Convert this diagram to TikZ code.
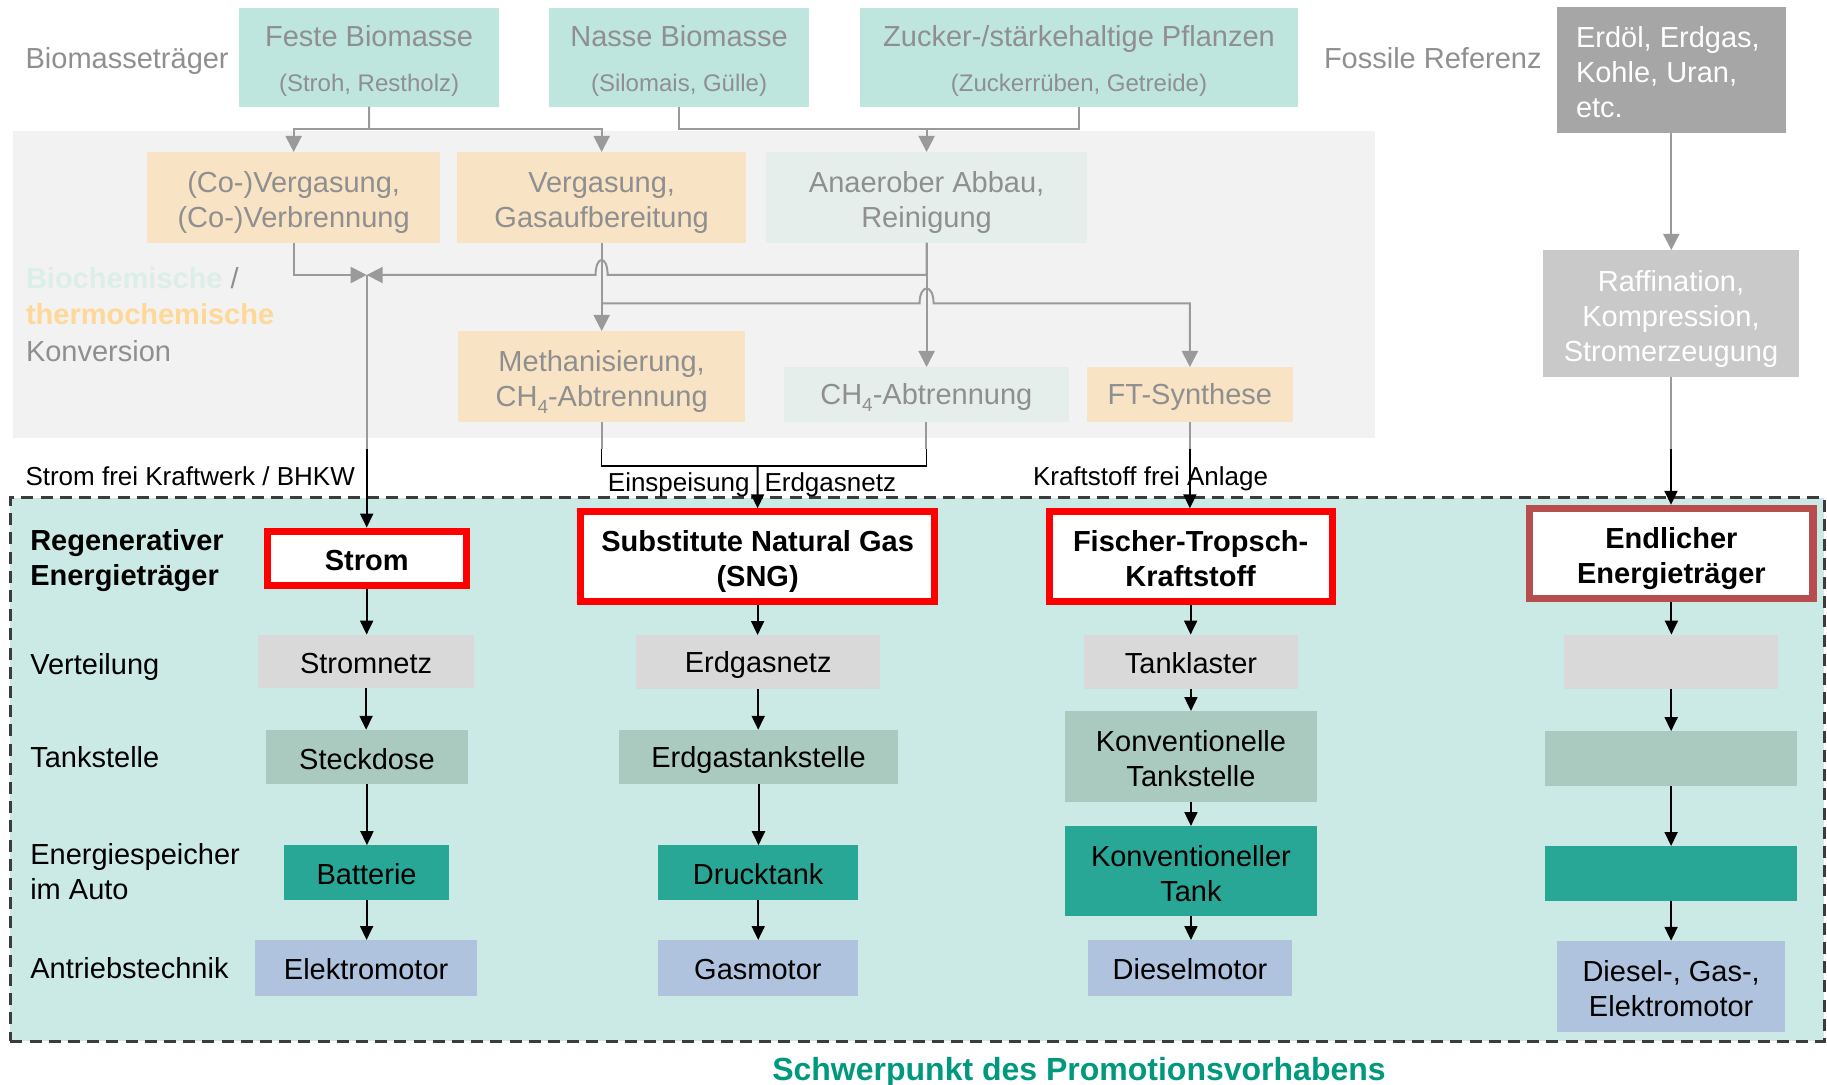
\documentclass[tikz,border=0pt]{standalone}
\usepackage{fontspec}
\setmainfont{Liberation Sans}
\usetikzlibrary{arrows.meta}
\definecolor{ctop}{HTML}{BFE5DF}
\definecolor{cpeach}{HTML}{F9E3C5}
\definecolor{cpale}{HTML}{E6EEEB}
\definecolor{cpanel}{HTML}{F2F2F2}
\definecolor{cerd}{HTML}{A6A6A6}
\definecolor{craff}{HTML}{C9C9C9}
\definecolor{clow}{HTML}{CCEAE5}
\definecolor{rowa}{HTML}{D9D9D9}
\definecolor{rowb}{HTML}{AAC9BF}
\definecolor{rowc}{HTML}{29A796}
\definecolor{rowd}{HTML}{B0C3DE}
\definecolor{cred}{HTML}{FF0000}
\definecolor{cdred}{HTML}{B84D4D}
\definecolor{cgreen}{HTML}{00997D}
\definecolor{cgtext}{HTML}{8F8F8F}
\definecolor{cbio}{HTML}{DCEEE8}
\definecolor{cthermo}{HTML}{FFD898}
\definecolor{cgline}{HTML}{9A9A9A}
\definecolor{cdash}{HTML}{3C3C3C}

\newcommand{\mystrut}{\rule[-1.3pt]{0pt}{14.8pt}}
\newcommand{\ftop}{\rule{0pt}{16.2pt}}
\newcommand{\fbot}{\rule[-3.5pt]{0pt}{3.5pt}}
\newcommand{\subfour}{\raisebox{-3.8pt}{\fontsize{9.5}{10}\selectfont 4}}
\newcommand{\mybox}[7]{\node[#6, minimum width={(#4-#2)*0.5pt}, minimum height={(#5-#3)*0.5pt}] (#1) at ({(#2+#4)/2},{(#3+#5)/2}) {#7};}
\newcommand{\myobox}[7]{\node[#6, minimum width={(#4-#2-7.2)*0.5pt}, minimum height={(#5-#3-7.2)*0.5pt}] (#1) at ({(#2+#4)/2},{(#3+#5)/2}) {#7};}

\tikzset{
  every node/.style={inner sep=0pt, outer sep=0pt},
  txt/.style={font=\fontsize{14.5}{17.5}\selectfont, align=center, execute at begin node=\mystrut, execute at end node=\mystrut},
  topbox/.style={fill=ctop},
  ttl/.style={font=\fontsize{14.5}{17.5}\selectfont, text=cgtext},
  subttl/.style={font=\fontsize{12}{14}\selectfont, text=cgtext},
  procA/.style={txt, fill=cpeach, text=cgtext},
  procB/.style={txt, fill=cpale, text=cgtext},
  keybox/.style={txt, font=\bfseries\fontsize{14.5}{17.5}\selectfont, fill=white, draw=cred, line width=3.6pt, outer sep=1.8pt},
  rA/.style={txt, fill=rowa},
  rB/.style={txt, fill=rowb},
  rC/.style={txt, fill=rowc},
  rD/.style={txt, fill=rowd},
  lbl/.style={font=\fontsize{14.5}{17.5}\selectfont, anchor=base west},
  anno/.style={font=\fontsize{13}{15.6}\selectfont},
  gline/.style={draw=cgline, line width=1pt},
  garrow/.style={gline, -{Triangle[length=8pt,width=8pt]}},
  bline/.style={draw=black, line width=0.8pt},
  barrow/.style={draw=black, line width=1pt, -{Triangle[length=7pt,width=6.5pt]}},
}

\begin{document}
\begin{tikzpicture}[x=0.5pt,y=-0.5pt]
\useasboundingbox (0,0) rectangle (1827,1085);

% backgrounds
\mybox{panel}{12.6}{131}{1375}{437.7}{fill=cpanel}{}
\mybox{focus}{10.3}{498}{1824}{1041}{fill=clow, draw=cdash, line width=1.5pt, dash pattern=on 6pt off 3.6pt}{}

% top sources
\mybox{feste}{238.8}{8}{499.4}{106.7}{topbox}{}
\node[ttl, anchor=base] (festeT) at (369.1,47) {Feste Biomasse};
\node[subttl, anchor=base] (festeS) at (369.1,91.5) {(Stroh, Restholz)};
\mybox{nasse}{548.8}{8}{809.4}{106.7}{topbox}{}
\node[ttl, anchor=base] (nasseT) at (679.1,47) {Nasse Biomasse};
\node[subttl, anchor=base] (nasseS) at (679.1,91.5) {(Silomais, Gülle)};
\mybox{zuck}{860.2}{8}{1297.7}{106.7}{topbox}{}
\node[ttl, anchor=base] (zuckT) at (1079,47) {Zucker-/stärkehaltige Pflanzen};
\node[subttl, anchor=base] (zuckS) at (1079,91.5) {(Zuckerrüben, Getreide)};

\node[ttl, anchor=base west] (lbio) at (25.6,68.3) {Biomasseträger};
\node[ttl, anchor=base west] (lfos) at (1324,68.3) {Fossile Referenz};

\mybox{erd}{1557}{7.3}{1785.6}{133.3}{fill=cerd}{}
\node[txt, align=left, text=white, anchor=west] (erdT) at (1576,73) {Erdöl, Erdgas,\\Kohle, Uran,\\etc.};
\mybox{raff}{1543}{250}{1799}{376.7}{txt, fill=craff, text=white}{\ftop Raffination,\\Kompression,\\Stromerzeugung\fbot}

% conversion processes
\mybox{coverg}{147}{152}{440.3}{242.7}{procA}{\ftop(Co-)Vergasung,\\(Co-)Verbrennung\fbot}
\mybox{verg}{457}{152}{746.3}{242.7}{procA}{\ftop Vergasung,\\Gasaufbereitung\fbot}
\mybox{anae}{766.4}{152}{1086.8}{242.7}{procB}{\ftop Anaerober Abbau,\\Reinigung\fbot}
\mybox{meth}{458}{331}{745.3}{421.7}{procA}{\ftop Methanisierung,\\CH\subfour-Abtrennung\fbot}
\mybox{ch4}{784.2}{367}{1068.5}{421.7}{procB}{CH\subfour-Abtrennung}
\mybox{ftsyn}{1086.8}{367}{1293}{421.7}{procA}{FT-Synthese}

\node[anchor=west, align=left, font=\fontsize{14.5}{18.3}\selectfont, text=cgtext, execute at begin node=\mystrut, execute at end node=\mystrut] (lkonv) at (26,315.5) {\textcolor{cbio}{\bfseries Biochemische} /\\\textcolor{cthermo}{\bfseries thermochemische}\\Konversion};

% annotations
\node[anno, anchor=base west] (lstrom) at (25.5,485.2) {Strom frei Kraftwerk / BHKW};
\node[anno, anchor=base] (lein) at (752,491.7) {Einspeisung\hspace{7.5pt}Erdgasnetz};
\node[anno, anchor=base west] (lkraft) at (1033,485.2) {Kraftstoff frei Anlage};

% energy carriers
\myobox{strom}{263.6}{527.6}{469.7}{589.2}{keybox}{Strom}
\myobox{sng}{577}{508.3}{938.2}{605.3}{keybox}{\ftop Substitute Natural Gas\\(SNG)\fbot}
\myobox{ftk}{1045.5}{508.3}{1335.8}{605.3}{keybox}{\ftop Fischer-Tropsch-\\Kraftstoff\fbot}
\myobox{endl}{1526.2}{504.8}{1816.6}{602.3}{keybox, draw=cdred}{\ftop Endlicher\\Energieträger\fbot}

% row labels
\node[anchor=west, align=left, font=\bfseries\fontsize{14.5}{17.5}\selectfont, execute at begin node=\mystrut, execute at end node=\mystrut] (lreg) at (30.3,560.5) {Regenerativer\\Energieträger};
\node[lbl] (lvert) at (30.3,674.4) {Verteilung};
\node[lbl] (ltank) at (30.3,767.8) {Tankstelle};
\node[anchor=west, align=left, font=\fontsize{14.5}{17.5}\selectfont, execute at begin node=\mystrut, execute at end node=\mystrut] (lspei) at (30.3,873) {Energiespeicher\\im Auto};
\node[lbl] (lantr) at (30.3,978.8) {Antriebstechnik};

% rows
\mybox{r1a}{258.2}{634.6}{474}{688.3}{rA}{Stromnetz}
\mybox{r1b}{266}{729.8}{467.9}{784.4}{rB}{Steckdose}
\mybox{r1c}{284.2}{845.2}{449}{899.8}{rC}{Batterie}
\mybox{r1d}{255.2}{940}{477}{995.5}{rD}{Elektromotor}
\mybox{r2a}{636.4}{635}{880}{689.2}{rA}{Erdgasnetz}
\mybox{r2b}{619.4}{729.8}{897.6}{784.4}{rB}{Erdgastankstelle}
\mybox{r2c}{658.2}{845.2}{858.2}{899.8}{rC}{Drucktank}
\mybox{r2d}{658.2}{940}{857.6}{995.5}{rD}{Gasmotor}
\mybox{r3a}{1083.9}{634.6}{1298}{688.8}{rA}{Tanklaster}
\mybox{r3b}{1065}{711}{1316.9}{801.5}{rB}{\ftop Konventionelle\\Tankstelle\fbot}
\mybox{r3c}{1065}{826}{1316.9}{916.4}{rC}{\ftop Konventioneller\\Tank\fbot}
\mybox{r3d}{1088}{940}{1292}{995.5}{rD}{Dieselmotor}
\mybox{r4a}{1564.1}{634.6}{1778.2}{688.8}{rA}{}
\mybox{r4b}{1545.2}{731.1}{1797}{786.2}{rB}{}
\mybox{r4c}{1545.2}{846}{1797}{900.7}{rC}{}
\mybox{r4d}{1557}{940.8}{1785.3}{1031.7}{rD}{\ftop Diesel-, Gas-,\\Elektromotor\fbot}

\node[font=\bfseries\fontsize{16}{19}\selectfont, text=cgreen, anchor=base] (focusT) at (1079,1080.5) {Schwerpunkt des Promotionsvorhabens};

% ---- connectors (top) ----
\coordinate (tj1) at (369.1,129);
\draw[gline] (feste.south) -- (tj1);
\draw[garrow] (tj1) -| (coverg.north);
\draw[garrow] (tj1) -| (verg.north);
\draw[gline] (nasse.south) |- (zuck.south |- tj1) -- (zuck.south);
\draw[garrow] (anae.north |- tj1) -- (anae.north);

\coordinate (sj) at (366.7,275);
\draw[garrow] (coverg.south) |- (sj);
\draw[garrow] (anae.south) -- (anae.south |- sj) -- (607.6,275) .. controls (607.6,255) and (595.6,255) .. (595.6,275) -- (sj);
\draw[garrow] (anae.south) -- (anae.south |- ch4.north);
\draw[garrow] (verg.south) -- (verg.south |- meth.north);
\coordinate (fj) at (601.65,303.5);
\draw[garrow] (verg.south |- fj) -- (919.6,303.5) .. controls (919.6,283.5) and (933.6,283.5) .. (933.6,303.5) -| (ftsyn.north);

\coordinate (sm) at (366.7,449);
\draw[gline] (sj) -- (sm);
\draw[barrow] (sm) -- (sm |- strom.north);

\coordinate (bl) at (601.65,449);
\draw[gline] (meth.south) -- (meth.south |- bl);
\draw[gline] (ch4.south) -- (ch4.south |- bl);
\draw[bline] (meth.south |- bl) -- ++(0,17) -| (ch4.south |- bl);
\coordinate (bm) at (757.6,466);
\draw[barrow] (bm) -- (sng.north);

\coordinate (fm) at (1189.9,449);
\draw[gline] (ftsyn.south) -- (ftsyn.south |- fm);
\draw[barrow] (ftsyn.south |- fm) -- (ftsyn.south |- ftk.north);

\draw[garrow] (erd.south) -- (erd.south |- raff.north);
\coordinate (em) at (1671,449);
\draw[gline] (raff.south) -- (raff.south |- em);
\draw[barrow] (raff.south |- em) -- (raff.south |- endl.north);

% ---- connectors (lower) ----
\draw[barrow] (strom.south) -- (strom.south |- r1a.north);
\draw[barrow] (r1a.south) -- (r1a.south |- r1b.north);
\draw[barrow] (r1b.south) -- (r1b.south |- r1c.north);
\draw[barrow] (r1c.south) -- (r1c.south |- r1d.north);
\draw[barrow] (sng.south) -- (sng.south |- r2a.north);
\draw[barrow] (r2a.south) -- (r2a.south |- r2b.north);
\draw[barrow] (r2b.south) -- (r2b.south |- r2c.north);
\draw[barrow] (r2c.south) -- (r2c.south |- r2d.north);
\draw[barrow] (ftk.south) -- (ftk.south |- r3a.north);
\draw[barrow] (r3a.south) -- (r3a.south |- r3b.north);
\draw[barrow] (r3b.south) -- (r3b.south |- r3c.north);
\draw[barrow] (r3c.south) -- (r3c.south |- r3d.north);
\draw[barrow] (endl.south) -- (endl.south |- r4a.north);
\draw[barrow] (r4a.south) -- (r4a.south |- r4b.north);
\draw[barrow] (r4b.south) -- (r4b.south |- r4c.north);
\draw[barrow] (r4c.south) -- (r4c.south |- r4d.north);
\end{tikzpicture}
\end{document}
